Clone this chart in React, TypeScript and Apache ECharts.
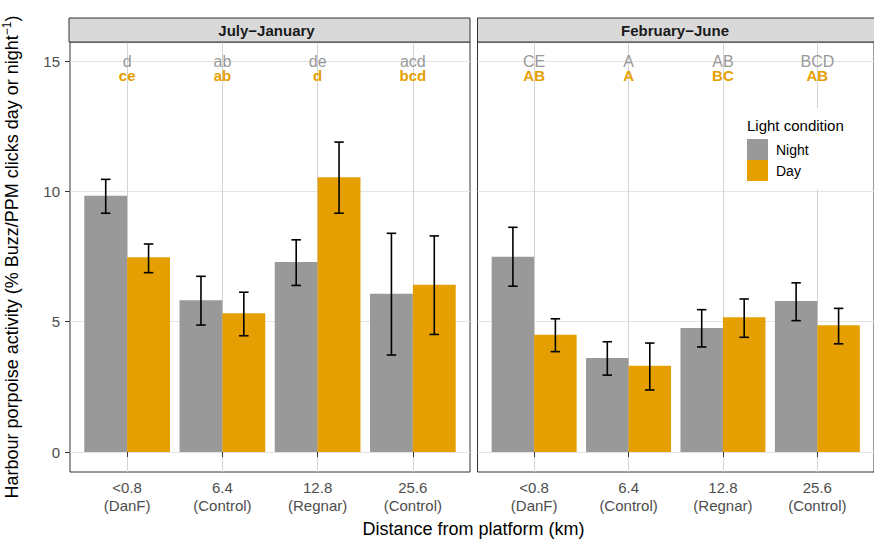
import React, { useEffect, useRef } from "react";
import * as echarts from "echarts";

// ---------- data ----------
const categories = ["<0.8\n(DanF)", "6.4\n(Control)", "12.8\n(Regnar)", "25.6\n(Control)"];
const panelTitles = ["July\u2212January", "February\u2212June"];
const seriesNames = ["Night", "Day"];
const yTicks = [0, 5, 10, 15];

// July–January
const nightJJ = [9.83, 5.82, 7.29, 6.07];
const nightJJLow = [9.16, 4.87, 6.39, 3.72];
const nightJJHigh = [10.46, 6.74, 8.14, 8.39];
const dayJJ = [7.47, 5.32, 10.54, 6.42];
const dayJJLow = [6.88, 4.46, 9.16, 4.51];
const dayJJHigh = [7.98, 6.13, 11.89, 8.29];
const nightLettersJJ = ["d", "ab", "de", "acd"];
const dayLettersJJ = ["ce", "ab", "d", "bcd"];

// February–June
const nightFJ = [7.49, 3.61, 4.76, 5.79];
const nightFJLow = [6.36, 2.95, 4.03, 5.04];
const nightFJHigh = [8.62, 4.23, 5.46, 6.49];
const dayFJ = [4.5, 3.31, 5.17, 4.86];
const dayFJLow = [3.85, 2.38, 4.4, 4.15];
const dayFJHigh = [5.11, 4.18, 5.87, 5.51];
const nightLettersFJ = ["CE", "A", "AB", "BCD"];
const dayLettersFJ = ["AB", "A", "BC", "AB"];

// ---------- styling ----------
const FONT = "Liberation Sans, Arial, Helvetica, sans-serif";
const NIGHT = "#999999";
const DAY = "#E69F00";
const BAR_W = 0.45;
const NIGHT_LETTER_Y = 15.0;
const DAY_LETTER_Y = 14.45;

const panels = [
  { left: 69, width: 401 },
  { left: 477.5, width: 401 },
];
const TOP = 42;
const HEIGHT = 430;

function barRender(offset: number) {
  return (params: any, api: any) => {
    const x = api.value(0);
    const v = api.value(1);
    const p0 = api.coord([x + offset, v]);
    const p1 = api.coord([x + offset + BAR_W, 0]);
    return {
      type: "rect",
      shape: { x: p0[0], y: p0[1], width: p1[0] - p0[0], height: p1[1] - p0[1] },
      style: { fill: api.visual("color") },
    };
  };
}

function errRender(offset: number) {
  return (params: any, api: any) => {
    const x = api.value(0) + offset;
    const lo = api.coord([x, api.value(1)]);
    const hi = api.coord([x, api.value(2)]);
    const capL = api.coord([x - 0.05, api.value(1)]);
    const capR = api.coord([x + 0.05, api.value(1)]);
    const half = (capR[0] - capL[0]) / 2;
    const style = { stroke: "#000", lineWidth: 1.6 };
    return {
      type: "group",
      children: [
        { type: "line", shape: { x1: lo[0], y1: lo[1], x2: hi[0], y2: hi[1] }, style },
        { type: "line", shape: { x1: lo[0] - half, y1: lo[1], x2: lo[0] + half, y2: lo[1] }, style },
        { type: "line", shape: { x1: hi[0] - half, y1: hi[1], x2: hi[0] + half, y2: hi[1] }, style },
      ],
    };
  };
}

function letterRender(letters: string[], color: string, weight: string, size: number) {
  return (params: any, api: any) => {
    const p = api.coord([api.value(0), api.value(1)]);
    return {
      type: "text",
      x: p[0],
      y: p[1],
      style: {
        text: letters[params.dataIndex],
        fill: color,
        font: `${weight} ${size}px ${FONT}`,
        align: "center",
        verticalAlign: "middle",
      },
    };
  };
}

export default function App() {
  const ref = useRef<HTMLDivElement>(null);

  useEffect(() => {
    if (!ref.current) return;
    const chart = echarts.init(ref.current, null, { renderer: "svg" });

    const panelData = [
      {
        night: nightJJ, nightLow: nightJJLow, nightHigh: nightJJHigh,
        day: dayJJ, dayLow: dayJJLow, dayHigh: dayJJHigh,
        nl: nightLettersJJ, dl: dayLettersJJ,
      },
      {
        night: nightFJ, nightLow: nightFJLow, nightHigh: nightFJHigh,
        day: dayFJ, dayLow: dayFJLow, dayHigh: dayFJHigh,
        nl: nightLettersFJ, dl: dayLettersFJ,
      },
    ];

    const grids = panels.map((p) => ({
      left: p.left,
      top: TOP,
      width: p.width,
      height: HEIGHT,
      show: true,
      borderColor: "#333333",
      borderWidth: 1,
      backgroundColor: "transparent",
      containLabel: false,
    }));

    const catValues = categories.map((_, i) => i + 1);

    const xAxes = panels.map((_, gi) => ({
      type: "value",
      gridIndex: gi,
      min: 0.4,
      max: 4.6,
      axisLine: { show: false },
      axisTick: {
        show: true,
        length: 5,
        customValues: catValues,
        lineStyle: { color: "#333333", width: 1 },
      },
      axisLabel: {
        show: true,
        customValues: catValues,
        formatter: (v: number) => categories[Math.round(v) - 1] ?? "",
        color: "#4D4D4D",
        fontFamily: FONT,
        fontSize: 15,
        lineHeight: 18,
        margin: 6,
      },
      splitLine: { show: true, lineStyle: { color: "#D4D4D4", width: 1 } },
    }));

    const yAxes = panels.map((_, gi) => ({
      type: "value",
      gridIndex: gi,
      min: -0.767,
      max: 15.729,
      axisLine: { show: false },
      axisTick: {
        show: gi === 0,
        length: 5,
        customValues: yTicks,
        lineStyle: { color: "#333333", width: 1 },
      },
      axisLabel: {
        show: gi === 0,
        customValues: yTicks,
        color: "#4D4D4D",
        fontFamily: FONT,
        fontSize: 15,
        margin: 10,
      },
      splitLine: { show: true, lineStyle: { color: "#E4E4E4", width: 1 } },
      name:
        gi === 0
          ? "Harbour porpoise activity (% Buzz/PPM clicks day or night{sup|\u22121})"
          : "",
      nameLocation: "middle",
      nameRotate: 90,
      nameGap: 47,
      nameTextStyle: {
        color: "#000",
        fontFamily: FONT,
        fontSize: 18,
        lineHeight: 22,
        rich: {
          sup: { fontSize: 12, fontFamily: FONT, color: "#000", verticalAlign: "top", lineHeight: 22 },
        },
      },
    }));

    const series: any[] = [];
    panelData.forEach((pd, gi) => {
      series.push({
        type: "custom",
        name: seriesNames[0],
        xAxisIndex: gi,
        yAxisIndex: gi,
        itemStyle: { color: NIGHT },
        renderItem: barRender(-BAR_W),
        encode: { x: 0, y: 1 },
        data: pd.night.map((v, i) => [i + 1, v]),
        z: 2,
      });
      series.push({
        type: "custom",
        name: seriesNames[1],
        xAxisIndex: gi,
        yAxisIndex: gi,
        itemStyle: { color: DAY },
        renderItem: barRender(0),
        encode: { x: 0, y: 1 },
        data: pd.day.map((v, i) => [i + 1, v]),
        z: 2,
      });
      series.push({
        type: "custom",
        name: "nightErr" + gi,
        xAxisIndex: gi,
        yAxisIndex: gi,
        renderItem: errRender(-BAR_W / 2),
        encode: { x: 0, y: [1, 2] },
        data: pd.night.map((_, i) => [i + 1, pd.nightLow[i], pd.nightHigh[i]]),
        z: 3,
      });
      series.push({
        type: "custom",
        name: "dayErr" + gi,
        xAxisIndex: gi,
        yAxisIndex: gi,
        renderItem: errRender(BAR_W / 2),
        encode: { x: 0, y: [1, 2] },
        data: pd.day.map((_, i) => [i + 1, pd.dayLow[i], pd.dayHigh[i]]),
        z: 3,
      });
      series.push({
        type: "custom",
        name: "nightLetters" + gi,
        xAxisIndex: gi,
        yAxisIndex: gi,
        renderItem: letterRender(pd.nl, NIGHT, "normal", 16),
        encode: { x: 0, y: 1 },
        data: pd.nl.map((_, i) => [i + 1, NIGHT_LETTER_Y]),
        z: 4,
      });
      series.push({
        type: "custom",
        name: "dayLetters" + gi,
        xAxisIndex: gi,
        yAxisIndex: gi,
        renderItem: letterRender(pd.dl, DAY, "bold", 15),
        encode: { x: 0, y: 1 },
        data: pd.dl.map((_, i) => [i + 1, DAY_LETTER_Y]),
        z: 4,
      });
    });

    const strips: any[] = [];
    panels.forEach((p, gi) => {
      strips.push({
        type: "rect",
        shape: { x: p.left, y: 18, width: p.width, height: TOP - 18 },
        style: { fill: "#D9D9D9", stroke: "#333333", lineWidth: 1 },
        z: 10,
      });
      strips.push({
        type: "text",
        x: p.left + p.width / 2 - 3,
        y: 30,
        style: {
          text: panelTitles[gi],
          font: `bold 15px ${FONT}`,
          fill: "#1A1A1A",
          align: "center",
          verticalAlign: "middle",
        },
        z: 11,
      });
    });

    const option: any = {
      animation: false,
      backgroundColor: "#ffffff",
      grid: grids,
      xAxis: xAxes,
      yAxis: yAxes,
      series,
      legend: {
        data: [
          { name: seriesNames[0], icon: "rect" },
          { name: seriesNames[1], icon: "rect" },
        ],
        orient: "vertical",
        left: 737,
        top: 108,
        padding: [31, 40, 8, 10],
        backgroundColor: "#ffffff",
        itemWidth: 21,
        itemHeight: 21,
        itemGap: 0,
        selectedMode: false,
        textStyle: { color: "#000", fontFamily: FONT, fontSize: 14, padding: [0, 0, 0, 3] },
        z: 20,
      },
      graphic: [
        ...strips,
        {
          type: "text",
          x: 747,
          y: 125,
          style: {
            text: "Light condition",
            font: `15px ${FONT}`,
            fill: "#000",
            align: "left",
            verticalAlign: "middle",
          },
          z: 30,
        },
        {
          type: "text",
          x: 473.5,
          y: 529,
          style: {
            text: "Distance from platform (km)",
            font: `18px ${FONT}`,
            fill: "#000",
            align: "center",
            verticalAlign: "middle",
          },
          z: 10,
        },
      ],
    };

    chart.setOption(option);
    return () => chart.dispose();
  }, []);

  return (
    <div
      ref={ref}
      style={{ position: "absolute", left: 0, top: 0, width: 874, height: 539, overflow: "hidden" }}
    />
  );
}
